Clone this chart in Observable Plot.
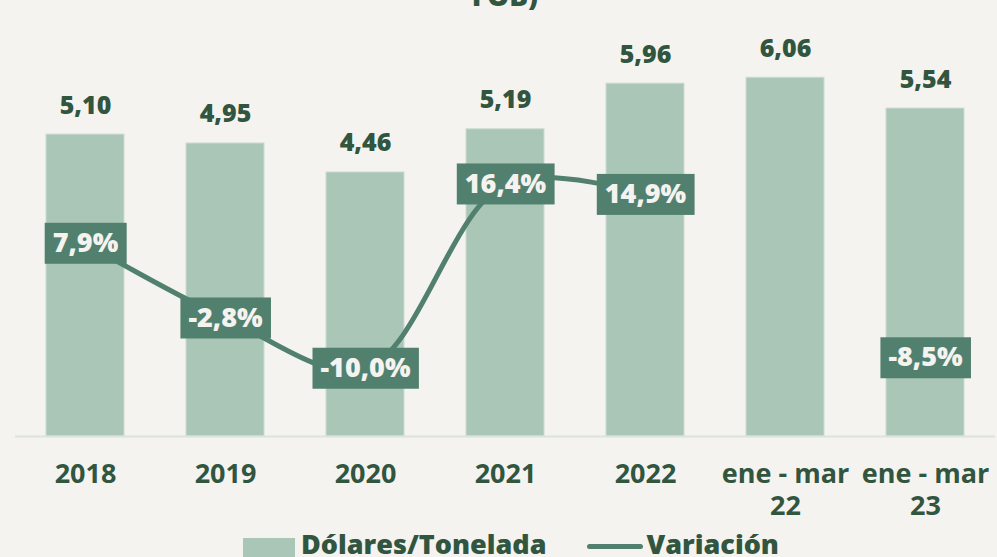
<!DOCTYPE html>
<html>
<head>
<meta charset="utf-8">
<script src="https://cdn.jsdelivr.net/npm/d3@7"></script>
<script src="https://cdn.jsdelivr.net/npm/@observablehq/plot@0.6"></script>
<style>
  html, body { margin: 0; padding: 0; background: #f4f3ef; }
  body { width: 997px; height: 557px; overflow: hidden; position: relative; font-family: "Open Sans", sans-serif; }
  #title { position: absolute; left: 0; width: 1010px; top: -19px; text-align: center; font-size: 28px; line-height: 28px; font-weight: 800; color: #31553f; }
  #chart { position: absolute; left: 0; top: 0; }
  #legend { position: absolute; left: 243px; top: 518px; height: 37px; line-height: 37px; padding-top: 7px; font-size: 27px; font-weight: 800; color: #31553f; white-space: nowrap; }
  .sw { display: inline-block; }
</style>
</head>
<body>
<div id="title">FOB)</div>
<div id="chart"></div>
<div id="legend"><span class="sw" style="width:52px;height:22px;background:#a9c6b6;vertical-align:-6px;margin-right:6px"></span>Dólares/Tonelada<span class="sw" style="width:56px;height:5px;border-radius:3px;background:#52806f;vertical-align:5px;margin-left:40px;margin-right:4px"></span>Variación</div>
<script>
// Data
const categories = ["2018", "2019", "2020", "2021", "2022", "ene - mar\n22", "ene - mar\n23"];
const pricePerTon = [5.10, 4.95, 4.46, 5.19, 5.96, 6.06, 5.54];
const variationPct = [7.9, -2.8, -10.0, 16.4, 14.9, null, -8.5];

const rows = categories.map((c, i) => ({cat: c, price: pricePerTon[i], pct: variationPct[i]}));

// secondary (percent) axis mapped onto the primary value scale
const pctToPrimary = d3.scaleLinear().domain([-19.77, 42.69]).range([0, 7.365]);

const dark = "#31553f";
const barColor = "#a9c6b6";
const lineColor = "#52806f";
const bg = "#f4f3ef";
const fmt2 = v => v.toFixed(2).replace(".", ",");
const fmtPct = v => v.toFixed(1).replace(".", ",") + "%";

const chart = Plot.plot({
  width: 997,
  height: 532,
  marginTop: 0,
  marginBottom: 96,
  marginLeft: 15,
  marginRight: 2,
  style: {background: "transparent", fontFamily: "Open Sans, sans-serif"},
  x: {domain: categories, paddingInner: 0.44, paddingOuter: 0.22, label: null},
  y: {domain: [0, 7.365], axis: null},
  marks: [
    Plot.barY(rows, {x: "cat", y: "price", fill: barColor, stroke: "#cbdcd2", strokeWidth: 1}),
    Plot.ruleY([0], {stroke: "#dbe4dc", strokeWidth: 2}),
    Plot.axisX({tickSize: 0, tickPadding: 24, fontSize: 27, fontWeight: 700, color: dark, lineHeight: 1.18, label: null, tickFormat: d => d}),
    Plot.line(rows, {x: "cat", y: d => d.pct == null ? NaN : pctToPrimary(d.pct), stroke: lineColor, strokeWidth: 5, curve: "catmull-rom"}),
    Plot.text(rows, {x: "cat", y: "price", text: d => fmt2(d.price), dy: -29, fontSize: 25, fontWeight: 800, fill: dark}),
    Plot.text(rows.filter(d => d.pct != null), {x: "cat", y: d => pctToPrimary(d.pct), text: d => fmtPct(d.pct), fontSize: 27, fontWeight: 800, fill: bg})
  ]
});
document.getElementById("chart").appendChild(chart);

// boxes behind the percent labels
const groups = chart.querySelectorAll("g[aria-label='text']");
const pctGroup = groups[groups.length - 1];
pctGroup.querySelectorAll("text").forEach(t => {
  const bb = t.getBBox();
  const cy = bb.y + bb.height / 2 + 1.8;
  const r = document.createElementNS("http://www.w3.org/2000/svg", "rect");
  r.setAttribute("x", bb.x - 8);
  r.setAttribute("width", bb.width + 16);
  r.setAttribute("y", cy - 20.5);
  r.setAttribute("height", 41);
  r.setAttribute("fill", lineColor);
  if (t.hasAttribute("transform")) r.setAttribute("transform", t.getAttribute("transform"));
  t.parentNode.insertBefore(r, t);
});
</script>
</body>
</html>
